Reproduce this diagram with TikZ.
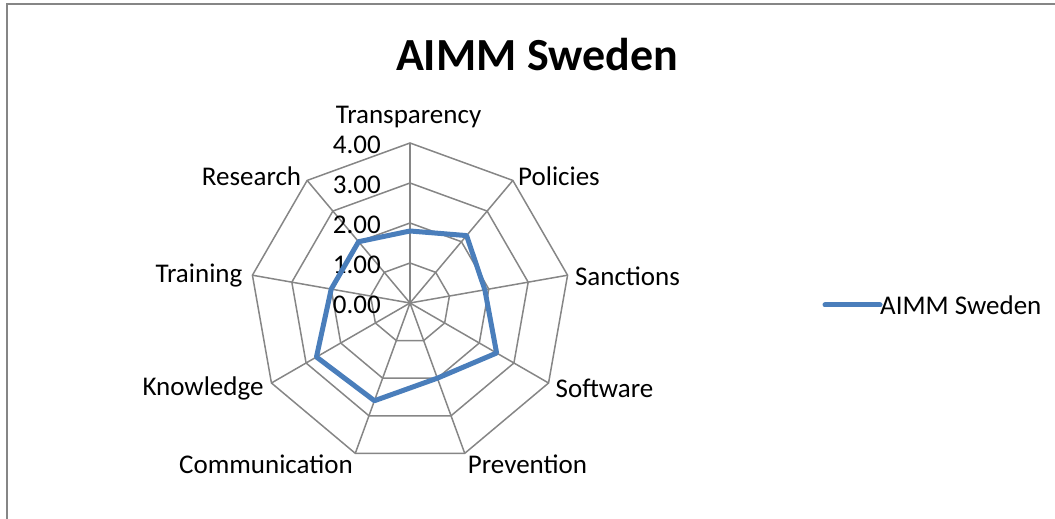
\documentclass[tikz,border=0pt]{standalone}
\usepackage{fontspec}
\setmainfont{Carlito}
\usetikzlibrary{positioning}
\definecolor{seriesblue}{RGB}{74,126,187}
\definecolor{gridgray}{RGB}{134,134,134}

\begin{document}
\begin{tikzpicture}[x=1pt,y=1pt,
      grid/.style={draw=gridgray,line width=1.5pt,line join=miter},
      series/.style={draw=seriesblue,line width=5pt,line join=round},
      axislabel/.style={font=\fontsize{27}{32}\selectfont,inner sep=0pt},
      ticklabel/.style={font=\fontsize{27}{32}\selectfont,anchor=east,inner sep=0pt}]
      \useasboundingbox (0,0) rectangle (1055,519);
      % chart frame, cut at right and bottom
      \draw[gridgray,line width=2pt] (7,0) -- (7,515) -- (1055,515);
      \node[font=\bfseries\fontsize{46}{50}\selectfont] (title) at (537,464) {AIMM Sweden};
      \begin{scope}[shift={(410,216)}]
        \coordinate (c) at (0,0);
        % rings and spokes
        \foreach \r in {40,80,120,160}
          \draw[grid] (90:\r) \foreach \k in {1,...,8} {-- ({90-40*\k}:\r)} -- cycle;
        \foreach \k in {0,...,8}
          \draw[grid] (c) -- ({90-40*\k}:160);
        \foreach \v in {0,...,4}
          \node[ticklabel] (tick\v) at (-29,40*\v-2) {\v.00};
        % axis labels
        \node[axislabel] (transparency) at (-1.5,186) {Transparency};
        \node[axislabel] (policies) at (149,127) {Policies};
        \node[axislabel] (sanctions) at (217.5,27) {Sanctions};
        \node[axislabel] (software) at (194.5,-85) {Software};
        \node[axislabel] (prevention) at (117.5,-161) {Prevention};
        \node[axislabel] (communication) at (-144,-161) {Communication};
        \node[axislabel] (knowledge) at (-207,-85) {Knowledge};
        \node[axislabel] (training) at (-211,27) {Training};
        \node[axislabel] (research) at (-158.5,127) {Research};
        % data
        \foreach \val [count=\k from 0] in {1.8,2.2,1.9,2.5,2.0,2.6,2.7,2.0,2.0}
          \coordinate (p\k) at ({90-40*\k}:{40*\val});
        \draw[series] (p0) -- (p1) -- (p2) -- (p3) -- (p4) -- (p5) -- (p6) -- (p7) -- (p8) -- cycle;
      \end{scope}
      % legend
      \node[axislabel,anchor=west] (legendtext) at (880,214) {AIMM Sweden};
      \coordinate (legendstart) at (825,214);
      \draw[series,line cap=round] (legendstart) -- (legendtext.west);
\end{tikzpicture}
\end{document}
